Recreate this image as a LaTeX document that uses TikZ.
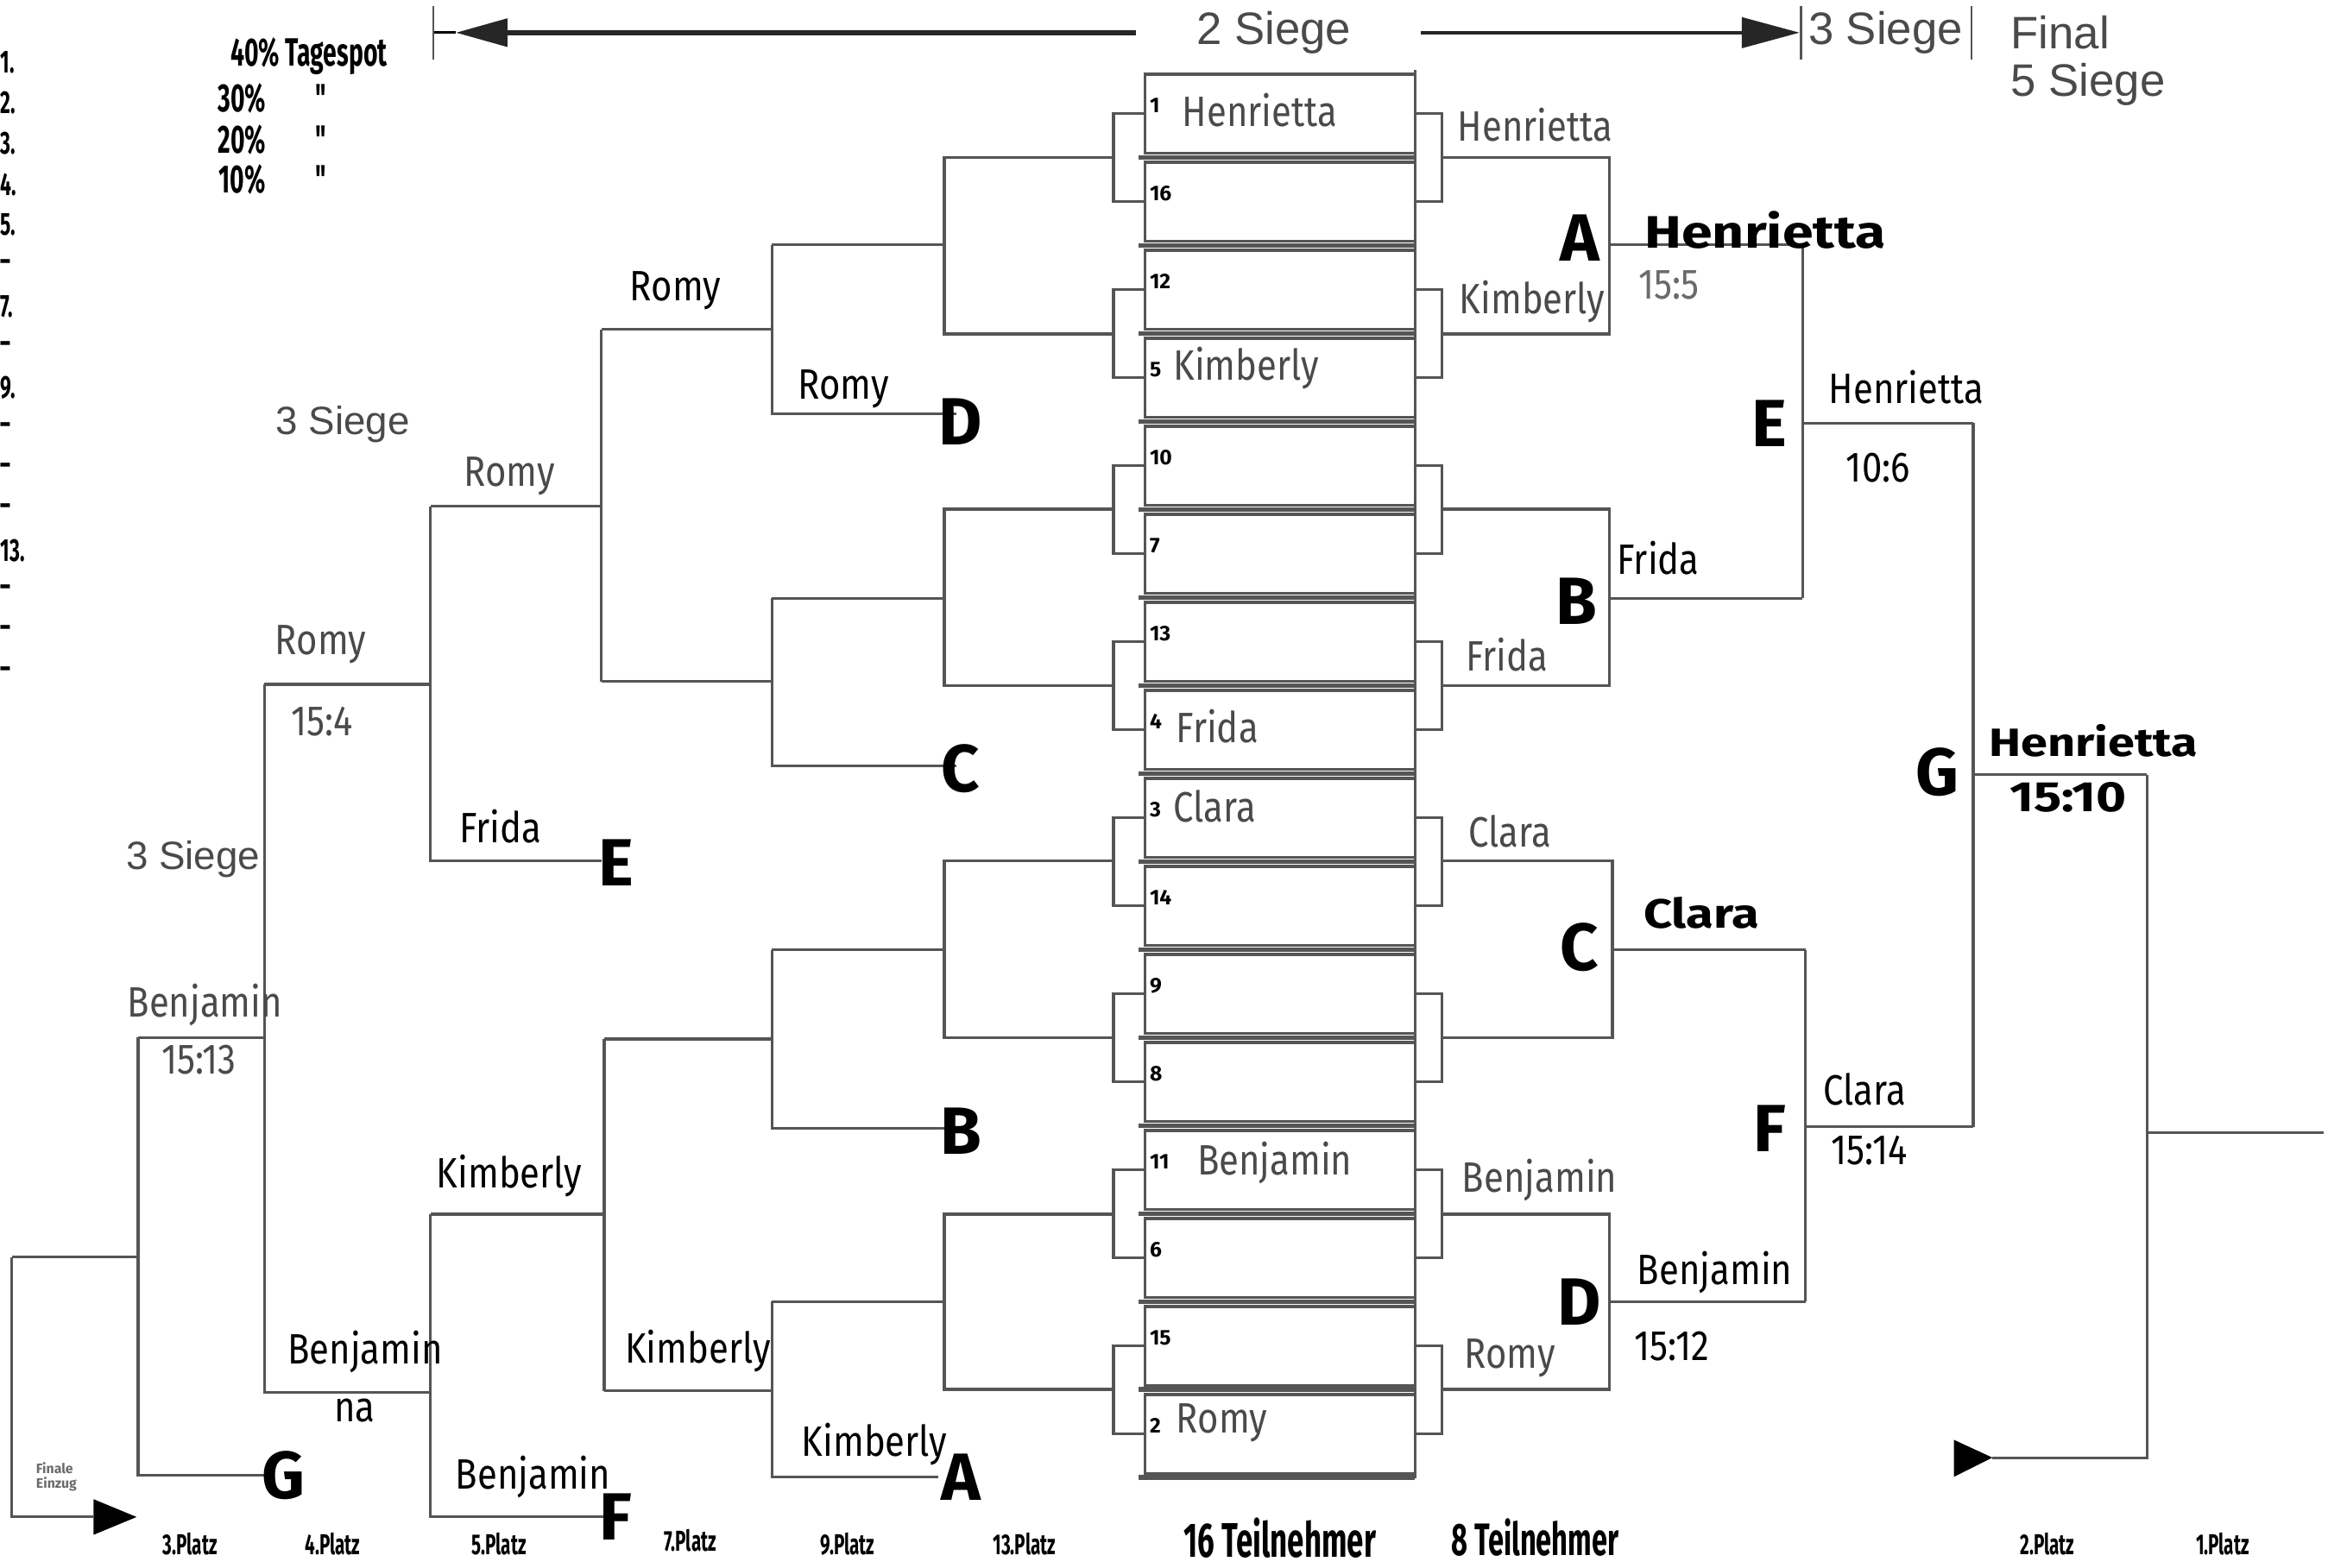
\documentclass[tikz,border=0pt]{standalone}
\usepackage{fontspec}
\setmainfont{Fira Sans}
\newfontfamily\arialfont{Liberation Sans}
\newfontfamily\namefont[FakeStretch=0.85]{Fira Sans}
\newfontfamily\condfont[FakeStretch=0.62]{Fira Sans}
\newfontfamily\widefont[FakeStretch=1.22]{Fira Sans}
\usetikzlibrary{arrows.meta}
\definecolor{lngray}{HTML}{555555}
\definecolor{txtgray}{HTML}{4A4A4A}
\definecolor{ltgray}{HTML}{6A6A6A}

\begin{document}
\begin{tikzpicture}[x=0.0172cm,y=-0.0172cm,
  ln/.style={draw=lngray,line width=0.9pt},
  nm/.style={font=\namefont\fontsize{14}{14}\selectfont,text=txtgray,inner sep=0pt},
  nmb/.style={nm,text=black},
  win/.style={font=\widefont\bfseries\fontsize{15}{15}\selectfont,inner sep=0pt},
  big/.style={font=\bfseries\fontsize{22}{22}\selectfont,inner sep=0pt},
  seed/.style={font=\bfseries\fontsize{7}{7}\selectfont,inner sep=0pt,anchor=west},
  hd/.style={font=\arialfont\fontsize{15}{15}\selectfont,text=txtgray,inner sep=0pt},
  plz/.style={font=\condfont\bfseries\fontsize{9.5}{9.5}\selectfont,inner sep=0pt},
  lgd/.style={font=\condfont\bfseries\fontsize{13}{13}\selectfont,inner sep=0pt}]
\useasboundingbox (0,0) rectangle (1568,1056);

% header
\node[hd] (hdTwo) at (858,22) {2 Siege};
\node[hd] (hdThree) at (1270,22) {3 Siege};
\node[hd,anchor=west] (hdFinal) at (1354,22) {Final};
\node[hd,anchor=west] (hdFive) at (1354,57) {5 Siege};
\draw[draw=black!85,line width=1.6pt,-{Triangle[length=17pt,width=9pt]}] (765,22) -- (307,22);
\draw[line width=0.8pt] (307,22) -- (292,22);
\draw[draw=black!85,line width=1pt,-{Triangle[length=19pt,width=10pt]}] (957,22) -- (1212,22);
\foreach \xt in {292,1213,1328}
  \draw[line width=0.7pt,lngray] (\xt,4) -- (\xt,40);

% legend
\foreach \pl [count=\j from 0] in {1.,2.,3.,4.,5.,\textendash,7.,\textendash,9.,\textendash,\textendash,\textendash,13.,\textendash,\textendash,\textendash}
  \node[lgd,font=\condfont\bfseries\fontsize{10.5}{10.5}\selectfont,anchor=west] (pl\j) at (0,42+27.4*\j) {\pl};
\node[lgd] (pot) at (208,38) {40\% Tagespot};
\node[lgd] (potB) at (163,66) {30\%};
\node[lgd] (potC) at (163,94) {20\%};
\node[lgd] (potD) at (163,121) {10\%};
\foreach \yd [count=\j] in {66,94,121}
  \node[lgd] (dit\j) at (216,\yd) {"};

% 16 boxes in the middle
\foreach \s [count=\i from 0] in {1,16,12,5,10,7,13,4,3,14,9,8,11,6,15,2} {
  \pgfmathsetmacro\t{50+59.3*\i}
  \draw[ln] (771,\t) rectangle (953,\t+53);
  \draw[lngray,line width=1.6pt] (767,\t+56) -- (953,\t+56);
  \node[seed] (s\s) at (774,\t+21) {\s};
}
\draw[ln] (953,47) -- (953,996);
\node[nm,anchor=west] (bHen) at (796,50+24) {Henrietta};
\node[nm,anchor=west] (bKim) at (790,50+3*59.3+20) {Kimberly};
\node[nm,anchor=west] (bFri) at (792,50+7*59.3+24) {Frida};
\node[nm,anchor=west] (bCla) at (790,50+8*59.3+19) {Clara};
\node[nm,anchor=west] (bBen) at (806,50+12*59.3+22) {Benjamin};
\node[nm,anchor=west] (bRom) at (792,50+15*59.3+19) {Romy};

% first round brackets on both sides of the boxes
\foreach \k in {0,...,7} {
  \pgfmathsetmacro\ya{76.5+118.6*\k}
  \pgfmathsetmacro\yb{\ya+59.3}
  \draw[ln] (771,\ya) -| (750,\yb) -- (771,\yb);
  \draw[ln] (953,\ya) -| (971,\yb) -- (953,\yb);
}

% winners bracket (right)
\draw[ln] (971,106) -| (1084,225) -- (971,225);
\draw[ln] (1084,165) -- (1214,165);
\draw[ln] (971,343) -| (1084,462) -- (971,462);
\draw[ln] (1084,403) -- (1214,403);
\draw[ln] (971,580) -| (1086,699) -- (971,699);
\draw[ln] (1086,640) -- (1216,640);
\draw[ln] (971,818) -| (1084,936) -- (971,936);
\draw[ln] (1084,877) -- (1216,877);
\draw[ln] (1214,165) -- (1214,403);
\draw[ln] (1214,285) -- (1329,285);
\draw[ln] (1216,640) -- (1216,877);
\draw[ln] (1216,759) -- (1329,759);
\draw[ln] (1329,285) -- (1329,759);
\draw[ln] (1329,522) -- (1446,522);
\draw[ln] (1446,522) -- (1446,982) -- (1342,982);
\draw[ln] (1446,763) -- (1565,763);
\fill (1316,970) -- (1342,982) -- (1316,995) -- cycle;

\node[nm] (rHen) at (1034,84) {Henrietta};
\node[nm] (rKim) at (1032,203) {Kimberly};
\node[nm] (rFri) at (1015,441) {Frida};
\node[nm] (rCla) at (1017,560) {Clara};
\node[nm] (rBen) at (1037,795) {Benjamin};
\node[nm] (rRom) at (1017,915) {Romy};
\node[big] (wA) at (1064,160) {A};
\node[big] (wB) at (1062,405) {B};
\node[big] (wC) at (1064,638) {C};
\node[big] (wD) at (1064,877) {D};
\node[big] (wE) at (1192,285) {E};
\node[big] (wF) at (1192,760) {F};
\node[big] (wG) at (1305,520) {G};
\node[win] (oA) at (1189,155) {Henrietta};
\node[nm,text=ltgray] (sA) at (1124,192) {15:5};
\node[nmb] (oB) at (1117,376) {Frida};
\node[win,font=\widefont\bfseries\fontsize{13.5}{14}\selectfont] (oC) at (1146,615) {Clara};
\node[nmb] (oD) at (1155,857) {Benjamin};
\node[nmb] (sD) at (1126,907) {15:12};
\node[nmb] (oE) at (1284,261) {Henrietta};
\node[nmb] (sE) at (1265,315) {10:6};
\node[nmb] (oF) at (1256,734) {Clara};
\node[nmb] (sF) at (1259,775) {15:14};
\node[win,font=\widefont\bfseries\fontsize{13}{13}\selectfont] (oG) at (1410,499) {Henrietta};
\node[win,font=\widefont\bfseries\fontsize{14}{14}\selectfont] (sG) at (1393,537) {15:10};

% losers bracket (left)
\draw[ln] (750,106) -| (636,225) -- (750,225);
\draw[ln] (636,165) -- (520,165);
\draw[ln] (520,165) -- (520,279) -- (644,279);
\draw[ln] (520,222) -- (405,222);
\draw[ln] (750,343) -| (636,462) -- (750,462);
\draw[ln] (636,403) -- (520,403);
\draw[ln] (520,403) -- (520,516) -- (644,516);
\draw[ln] (520,459) -- (405,459);
\draw[ln] (405,222) -- (405,459);
\draw[ln] (405,341) -- (290,341);
\draw[ln] (290,341) -- (290,580) -- (405,580);
\draw[ln] (290,461) -- (178,461);
\draw[ln] (178,461) -- (178,938) -- (290,938);
\draw[ln] (178,699) -- (93,699);
\draw[ln] (93,699) -- (93,994) -- (183,994);
\draw[ln] (93,847) -- (8,847);
\draw[ln] (8,847) -- (8,1022) -- (63,1022);
\fill (63,1010) -- (92,1022) -- (63,1034) -- cycle;

\draw[ln] (750,580) -| (636,699) -- (750,699);
\draw[ln] (636,640) -- (520,640);
\draw[ln] (520,640) -- (520,760) -- (644,760);
\draw[ln] (520,700) -- (407,700);
\draw[ln] (750,818) -| (636,936) -- (750,936);
\draw[ln] (636,877) -- (520,877);
\draw[ln] (520,877) -- (520,995) -- (632,995);
\draw[ln] (520,937) -- (407,937);
\draw[ln] (407,700) -- (407,937);
\draw[ln] (407,818) -- (290,818);
\draw[ln] (290,818) -- (290,1022) -- (407,1022);

\node[big] (lD) at (647,284) {D};
\node[big] (lC) at (647,518) {C};
\node[big] (lE) at (415,581) {E};
\node[big] (lB) at (647,762) {B};
\node[big] (lA) at (647,995) {A};
\node[big] (lG) at (191,994) {G};
\node[big] (lF) at (415,1022) {F};
\node[nmb] (lRomA) at (455,196) {Romy};
\node[nmb] (lRomB) at (568,262) {Romy};
\node[nm] (lRomC) at (343,321) {Romy};
\node[nm] (lRomD) at (216,434) {Romy};
\node[nm] (lsRom) at (217,486) {15:4};
\node[nmb] (lFri) at (337,557) {Frida};
\node[nm] (lBenA) at (138,677) {Benjamin};
\node[nm] (lsBen) at (134,714) {15:13};
\node[nmb] (lKimA) at (343,792) {Kimberly};
\node[nmb] (lBenB) at (246,911) {Benjamin};
\node[nmb] (lna) at (239,950) {na};
\node[nmb] (lKimB) at (470,910) {Kimberly};
\node[nmb] (lKimC) at (589,973) {Kimberly};
\node[nmb] (lBenC) at (359,995) {Benjamin};
\node[hd,font=\arialfont\fontsize{13}{13}\selectfont] (sgA) at (231,286) {3 Siege};
\node[hd,font=\arialfont\fontsize{13}{13}\selectfont] (sgB) at (130,579) {3 Siege};
\node[font=\bfseries\fontsize{4.5}{5}\selectfont,text=ltgray,align=left,inner sep=0pt] (fin) at (38,995) {Finale\\Einzug};

% places
\node[plz] (p3) at (128,1040) {3.Platz};
\node[plz] (p4) at (224,1040) {4.Platz};
\node[plz] (p5) at (336,1040) {5.Platz};
\node[plz] (p7) at (465,1038) {7.Platz};
\node[plz] (p9) at (571,1040) {9.Platz};
\node[plz] (p13) at (690,1040) {13.Platz};
\node[plz,font=\condfont\bfseries\fontsize{16}{16}\selectfont] (t16) at (862,1036) {16 Teilnehmer};
\node[plz,font=\condfont\bfseries\fontsize{15}{15}\selectfont] (t8) at (1034,1036) {8 Teilnehmer};
\node[plz] (p2) at (1379,1040) {2.Platz};
\node[plz] (p1) at (1497,1040) {1.Platz};
\end{tikzpicture}
\end{document}
